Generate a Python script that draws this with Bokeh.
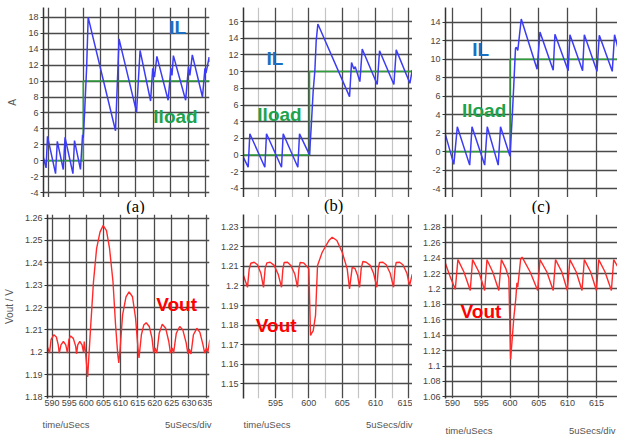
from bokeh.plotting import figure
from bokeh.layouts import column, row
from bokeh.models import Range1d, FixedTicker, Label, CustomJSTickFormatter
from bokeh.embed import file_html
from bokeh.resources import INLINE

# ---------------- data (time in uSecs) ----------------
# (a) inductor current IL and load current Iload [A]
ta_il = [(588.6, 0.44), (589.4, -0.9), (589.8, 3.06), (592.1, -1.63), (592.6, 2.43),
         (594.3, -1.1), (594.8, 2.93), (597.05, -1.63), (597.5, 2.52), (599.2, -1.1),
         (599.8, 3.26), (600.0, 2.85), (600.4, 6.17), (600.95, 11.57), (601.4, 18.0),
         (609.2, 3.76), (610.2, 15.3), (615.2, 6.1), (616.2, 13.85), (619.2, 7.5),
         (619.8, 11.6), (620.3, 10.5), (621.0, 13.1), (624.2, 7.6), (625.0, 11.6),
         (625.3, 10.7), (625.7, 13.2), (629.2, 7.6), (630.0, 11.8), (630.4, 10.7),
         (631.1, 13.3), (634.0, 8.0), (634.7, 11.6), (635.0, 11.0), (635.9, 13.0),
         (636.1, 12.4)]
ta_load_t = [588.6, 600.0, 600.0, 636.1]
ta_load_v = [0, 0, 10, 10]

# (a) output voltage [V]
ba_vout = [(588.6, 1.2026), (589.25, 1.1996), (589.7, 1.2056), (590.5, 1.2078), (591.25, 1.2068),
           (591.8, 1.2033), (592.1, 1.1996), (592.6, 1.2033), (593.3, 1.2048), (594.0, 1.2033),
           (594.5, 1.1996), (594.9, 1.2056), (595.4, 1.2073), (596.2, 1.2062), (596.9, 1.2026),
           (597.15, 1.1993), (597.5, 1.2033), (598.1, 1.2048), (598.75, 1.2033), (599.2, 1.1999),
           (599.4, 1.2048), (599.7, 1.2011), (600.4, 1.1890), (601.3, 1.2122), (602.1, 1.2315),
           (603.0, 1.2463), (604.0, 1.2537), (604.9, 1.2567), (605.9, 1.2544), (606.8, 1.2463),
           (607.8, 1.2315), (608.55, 1.2122), (609.2, 1.1989), (609.5, 1.1952), (609.9, 1.2019),
           (610.6, 1.2167), (611.6, 1.2248), (612.5, 1.2270), (613.5, 1.2248), (614.4, 1.2152),
           (615.1, 1.2019), (615.4, 1.1974), (616.1, 1.2078), (616.8, 1.2122), (617.5, 1.2132),
           (618.4, 1.2115), (619.2, 1.2063), (619.7, 1.1996), (620.1, 1.2019), (620.6, 1.1996),
           (621.3, 1.2085), (622.2, 1.2125), (623.2, 1.2107), (624.1, 1.2048), (624.6, 1.1996),
           (625.1, 1.2019), (625.5, 1.1996), (626.3, 1.2085), (627.3, 1.2115), (628.2, 1.2100),
           (629.2, 1.2041), (629.7, 1.1992), (630.1, 1.2015), (630.6, 1.1992), (631.3, 1.2078),
           (632.3, 1.2107), (633.2, 1.2089), (634.1, 1.2033), (634.6, 1.1996), (635.1, 1.2019),
           (635.5, 1.1999), (636.1, 1.2056)]

# (b)
tb_il = [(590.2, -0.3), (590.9, -1.45), (591.15, 2.55), (593.4, -1.45), (593.65, 2.55),
         (595.9, -1.45), (596.15, 2.55), (598.35, -1.45), (598.6, 2.55), (600.1, 0.03),
         (600.35, 3.35), (600.65, 7.7), (600.9, 10.1), (601.1, 13.7), (601.35, 15.7),
         (606.1, 7.0), (606.4, 11.1), (606.75, 10.3), (606.95, 10.6), (607.65, 8.8),
         (608.0, 12.7), (610.25, 8.45), (610.6, 12.5), (612.75, 8.45), (613.1, 12.6),
         (615.15, 8.6), (615.5, 10.2)]
tb_load_t = [590.2, 600.1, 600.1, 615.6]
tb_load_v = [0, 0, 10, 10]

bb_vout = [(590.2, 1.2053), (590.8, 1.1993), (591.05, 1.2085), (591.3, 1.2116), (591.8, 1.2121),
           (592.3, 1.2108), (592.8, 1.2065), (593.2, 1.1993), (593.45, 1.2090), (593.7, 1.2118),
           (594.2, 1.2121), (594.8, 1.2105), (595.4, 1.2060), (595.9, 1.1993), (596.1, 1.2085),
           (596.3, 1.2120), (596.8, 1.2121), (597.3, 1.2105), (597.9, 1.2060), (598.3, 1.1993),
           (598.5, 1.2085), (598.7, 1.2120), (599.2, 1.2118), (599.7, 1.2100), (600.0, 1.2087),
           (600.25, 1.1747), (600.45, 1.1760), (600.65, 1.1770), (601.0, 1.1850), (601.3, 1.2104),
           (602.0, 1.2172), (603.0, 1.2232), (603.5, 1.2249), (604.2, 1.2232), (605.0, 1.2172),
           (605.75, 1.2087), (606.1, 1.1985), (606.5, 1.2095), (606.9, 1.2090), (607.3, 1.2055),
           (607.6, 1.1993), (607.85, 1.2090), (608.1, 1.2125), (608.6, 1.2121), (609.2, 1.2105),
           (609.7, 1.2065), (610.2, 1.1993), (610.4, 1.2085), (610.6, 1.2120), (611.1, 1.2121),
           (611.6, 1.2108), (612.2, 1.2065), (612.7, 1.1993), (612.9, 1.2085), (613.1, 1.2120),
           (613.6, 1.2121), (614.1, 1.2108), (614.7, 1.2065), (615.1, 1.2002), (615.5, 1.2060)]

# (c)
tc_il = [(588.8, 1.84), (590.25, -1.35), (590.85, 2.72), (593.0, -1.43), (593.4, 2.72),
         (595.6, -1.43), (596.05, 2.72), (597.95, -1.43), (598.35, 2.72), (600.0, -0.47),
         (600.4, 3.97), (600.65, 7.16), (600.95, 11.2), (601.1, 11.3), (601.35, 10.95),
         (601.95, 14.35), (604.7, 8.93), (605.2, 12.94), (607.5, 8.82), (607.8, 12.7),
         (610.1, 8.76), (610.4, 12.65), (612.6, 8.76), (612.9, 12.65), (615.1, 8.7),
         (615.5, 12.6), (617.75, 8.7), (618.15, 12.65), (618.7, 11.3)]
tc_load_t = [588.8, 600.0, 600.0, 618.7]
tc_load_v = [0, 0, 10, 10]

bc_vout = [(588.8, 1.233), (589.6, 1.216), (590.5, 1.1995), (590.95, 1.238), (592.0, 1.222),
           (593.1, 1.198), (593.5, 1.238), (594.6, 1.222), (595.6, 1.198), (596.0, 1.238),
           (597.0, 1.222), (598.05, 1.198), (598.5, 1.238), (599.3, 1.226), (599.8, 1.214),
           (600.1, 1.1087), (600.4, 1.137), (600.65, 1.162), (601.0, 1.187), (601.2, 1.208),
           (601.35, 1.2025), (601.85, 1.239), (602.1, 1.2412), (603.5, 1.222), (604.8, 1.198),
           (605.2, 1.238), (606.4, 1.222), (607.5, 1.198), (607.9, 1.238), (609.0, 1.222),
           (609.95, 1.198), (610.4, 1.238), (611.5, 1.222), (612.5, 1.198), (612.9, 1.238),
           (614.0, 1.222), (615.0, 1.198), (615.4, 1.238), (616.5, 1.222), (617.6, 1.198),
           (618.0, 1.238), (618.7, 1.229)]

# tick labels
ta_yticks = [-4, -2, 0, 2, 4, 6, 8, 10, 12, 14, 16, 18]
tb_yticks = [-4, -2, 0, 2, 4, 6, 8, 10, 12, 14, 16]
tc_yticks = [-4, -2, 0, 2, 4, 6, 8, 10, 12, 14]
ba_yticks = [1.18, 1.19, 1.2, 1.21, 1.22, 1.23, 1.24, 1.25, 1.26]
bb_yticks = [1.15, 1.16, 1.17, 1.18, 1.19, 1.2, 1.21, 1.22, 1.23]
bc_yticks = [1.06, 1.08, 1.1, 1.12, 1.14, 1.16, 1.18, 1.2, 1.22, 1.24, 1.26, 1.28, 1.3]
a_xticks = [590, 595, 600, 605, 610, 615, 620, 625, 630, 635]
b_xticks = [595, 600, 605, 610, 615]
b_xminor = [592.5, 597.5, 602.5, 607.5, 612.5]
c_xticks = [590, 595, 600, 605, 610, 615]

# captions
panel_tags = ["(a)", "(b)", "(c)"]
time_caption = "time/uSecs"
div_caption = "5uSecs/div"

IL_COLOR = "#3c3cf5"
LOAD_COLOR = "#2f9e3a"
VOUT_COLOR = "#ff2a2a"
GRID = "#4a4a4a"
FONT = "Liberation Sans"

fmt = CustomJSTickFormatter(code="return String(Math.round(tick*1000)/1000);")


def unzip(pairs):
    return [a for a, _ in pairs], [b for _, b in pairs]


def panel(w, h, xr, yr, bl, bt, bb, br, yt, xt, xminor=None, show_x=False, ylabel=None):
    p = figure(width=w, height=h, x_range=Range1d(*xr), y_range=Range1d(*yr),
               output_backend="svg", toolbar_location=None,
               min_border_left=bl, min_border_top=bt, min_border_bottom=bb, min_border_right=br)
    p.outline_line_color = None
    yax = p.yaxis[0]
    yax.ticker = FixedTicker(ticks=yt)
    yax.formatter = fmt
    yax.axis_line_color = "#333333"
    yax.axis_line_width = 1.5
    yax.major_tick_line_color = "#333333"
    yax.major_tick_out = 3
    yax.major_tick_in = 0
    yax.minor_tick_line_color = None
    yax.major_label_standoff = 2
    yax.major_label_text_font = FONT
    yax.major_label_text_font_size = "9px"
    yax.major_label_text_color = "#444444"
    if ylabel:
        yax.axis_label = ylabel
        yax.axis_label_text_font = FONT
        yax.axis_label_text_font_size = "10px"
        yax.axis_label_text_font_style = "normal"
        yax.axis_label_text_color = "#555555"
        yax.axis_label_standoff = 7
    xax = p.xaxis[0]
    if show_x:
        xax.ticker = FixedTicker(ticks=xt)
        xax.formatter = fmt
        xax.axis_line_color = None
        xax.major_tick_line_color = None
        xax.minor_tick_line_color = None
        xax.major_tick_out = 0
        xax.major_label_standoff = 1
        xax.major_label_text_font = FONT
        xax.major_label_text_font_size = "9px"
        xax.major_label_text_color = "#444444"
    else:
        xax.visible = False
    p.xgrid.ticker = FixedTicker(ticks=xt, minor_ticks=xminor or [])
    p.ygrid.ticker = FixedTicker(ticks=yt)
    for g in (p.xgrid[0], p.ygrid[0]):
        g.grid_line_color = GRID
        g.grid_line_width = 1.3
    if xminor:
        p.xgrid.minor_grid_line_color = "#c4c4c4"
        p.xgrid.minor_grid_line_width = 1.2
    return p


def strip(h):
    s = figure(width=617, height=h, x_range=Range1d(0, 617), y_range=Range1d(h, 0),
               output_backend="svg", toolbar_location=None,
               min_border_left=0, min_border_right=0, min_border_top=0, min_border_bottom=0)
    s.axis.visible = False
    s.grid.visible = False
    s.outline_line_color = None
    return s


def tag(p, text, x, y, color, size="19px", style="bold", font=FONT, align="center"):
    p.add_layout(Label(x=x, y=y, text=text, text_color=color, text_font=font,
                       text_font_size=size, text_font_style=style,
                       text_align=align, text_baseline="middle"))


# ---------------- top row: currents ----------------
TOP_H = 197
ta = panel(212, TOP_H, (588.66, 636.0), (-4.62, 19.24), 43, 5, 0, 3, ta_yticks, a_xticks, ylabel="A")
t, v = unzip(ta_il)
ta.line(ta_load_t, ta_load_v, color=LOAD_COLOR, line_width=1.5)
ta.line(t, v, color=IL_COLOR, line_width=1.5)
tag(ta, "IL", 626.9, 16.76, "#1c6fc0")
tag(ta, "Iload", 626.3, 5.57, "#1fa24c")

tb = panel(200, TOP_H, (590.2, 615.54), (-5.08, 17.68), 31, 7, 0, 0, tb_yticks, b_xticks, xminor=b_xminor)
t, v = unzip(tb_il)
tb.line(tb_load_t, tb_load_v, color=LOAD_COLOR, line_width=1.5)
tb.line(t, v, color=IL_COLOR, line_width=1.5)
tag(tb, "IL", 594.9, 11.63, "#1c6fc0")
tag(tb, "Iload", 595.6, 4.86, "#1fa24c")

tc = panel(205, TOP_H, (588.8, 618.66), (-4.93, 15.6), 33, 4, 0, 0, tc_yticks, c_xticks)
t, v = unzip(tc_il)
tc.line(tc_load_t, tc_load_v, color=LOAD_COLOR, line_width=1.5)
tc.line(t, v, color=IL_COLOR, line_width=1.5)
tag(tc, "IL", 594.9, 11.07, "#1c6fc0")
tag(tc, "Iload", 595.5, 4.48, "#1fa24c")

# strip with the (a) (b) (c) captions
mid = strip(17)
for txt, x, y in zip(panel_tags, [135, 333, 540.5], [8.5, 7.5, 8.5]):
    tag(mid, txt, x, y, "black", size="16.5px", style="normal", font="Liberation Serif")

# ---------------- bottom row: output voltage ----------------
BOT_H = 204
ba = panel(212, BOT_H, (588.66, 636.0), (1.1793, 1.2616), 43, 0, 19, 3, ba_yticks, a_xticks,
           show_x=True, ylabel="Vout / V")
t, v = unzip(ba_vout)
ba.line(t, v, color=VOUT_COLOR, line_width=1.4)
tag(ba, "Vout", 626.4, 1.2213, "#ff0000")

bb = panel(200, BOT_H, (590.2, 615.54), (1.1425, 1.2365), 31, 0, 20, 0, bb_yticks, b_xticks,
           xminor=b_xminor, show_x=True)
t, v = unzip(bb_vout)
bb.line(t, v, color=VOUT_COLOR, line_width=1.4)
tag(bb, "Vout", 595.1, 1.18, "#ff0000")

bc = panel(205, BOT_H, (588.8, 618.66), (1.0579, 1.2966), 33, 0, 13, 0, bc_yticks, c_xticks, show_x=True)
t, v = unzip(bc_vout)
bc.line(t, v, color=VOUT_COLOR, line_width=1.4)
tag(bc, "Vout", 594.96, 1.171, "#ff0000")

# strip with the time-axis captions
bot = strip(22)
for x, y in zip([42, 243, 445], [6, 6, 12]):
    tag(bot, time_caption, x, y, "#555555", size="9.5px", style="normal", align="left")
for x, y in zip([211, 412, 615], [6, 6, 12]):
    tag(bot, div_caption, x, y, "#555555", size="9.5px", style="normal", align="right")

layout = column(row(ta, tb, tc), mid, row(ba, bb, bc), bot)
open("out.html", "w").write(file_html(layout, INLINE))
